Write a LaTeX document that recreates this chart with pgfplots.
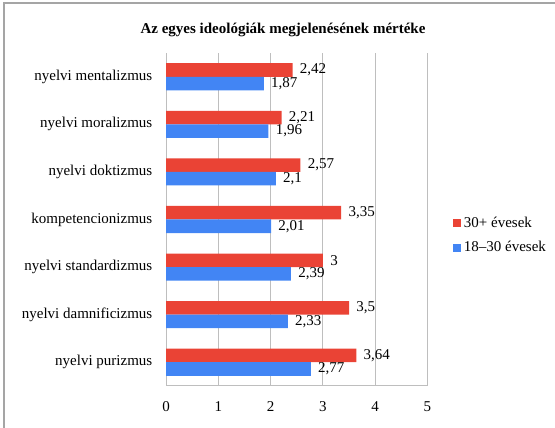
\documentclass[border=0pt]{standalone}
\usepackage{fontspec}
\setmainfont{Liberation Serif}
\usepackage{pgfplots}
\pgfplotsset{compat=1.18}
\definecolor{cred}{RGB}{234,67,53}
\definecolor{cblue}{RGB}{66,133,244}
\definecolor{cgrid}{RGB}{190,190,190}
\definecolor{cframe}{RGB}{165,165,165}
\newcommand{\chfont}{\fontsize{11.25}{13}\selectfont}
\begin{document}
\begin{tikzpicture}[x=0.75pt,y=0.75pt]
\useasboundingbox (0,0) rectangle (555,427);
\draw[cframe, line width=1.5pt] (4,-5) -- (4,424) -- (560,424);
\node[font=\bfseries\chfont] at (283,397) {Az egyes ideológiák megjelenésének mértéke};
\begin{axis}[
  at={(124.5pt,30.75pt)}, anchor=south west,
  width=196.1pt, height=249.75pt, scale only axis,
  xbar, xmin=0, xmax=5, ymin=-0.5, ymax=6.5,
  bar width=0.285,
  xtick={0,1,2,3,4,5},
  ytick={0,1,2,3,4,5,6},
  yticklabels={nyelvi purizmus, nyelvi damnificizmus, nyelvi standardizmus, kompetencionizmus, nyelvi doktizmus, nyelvi moralizmus, nyelvi mentalizmus},
  axis x line*=bottom, axis y line*=left,
  axis line style={-, cgrid, line width=0.75pt},
  xmajorgrids, grid style={cgrid, line width=0.75pt},
  major tick length=0pt, tick style={draw=none},
  /pgf/number format/assume math mode=true,
  /pgf/number format/use comma,
  xticklabel style={font=\chfont, yshift=-8pt},
  yticklabel style={font=\chfont, xshift=-6.75pt},
  nodes near coords,
  every node near coord/.append style={font=\chfont, anchor=west, xshift=2pt, text=black},
  clip=false,
  legend style={at={(1.0975,0.452)}, anchor=west, draw=none, fill=none, font=\chfont, row sep=5pt, inner sep=0pt},
  legend cell align=left,
  legend image code/.code={\fill[#1] (0pt,-3pt) rectangle (6pt,3pt);},
]
\addplot[fill=cred, draw=none, bar shift=0.1425] coordinates {(3.64,0) (3.5,1) (3,2) (3.35,3) (2.57,4) (2.21,5) (2.42,6)};
\addplot[fill=cblue, draw=none, bar shift=-0.1425] coordinates {(2.77,0) (2.33,1) (2.39,2) (2.01,3) (2.1,4) (1.96,5) (1.87,6)};
\legend{30+ évesek, 18--30 évesek}
\end{axis}
\end{tikzpicture}
\end{document}
